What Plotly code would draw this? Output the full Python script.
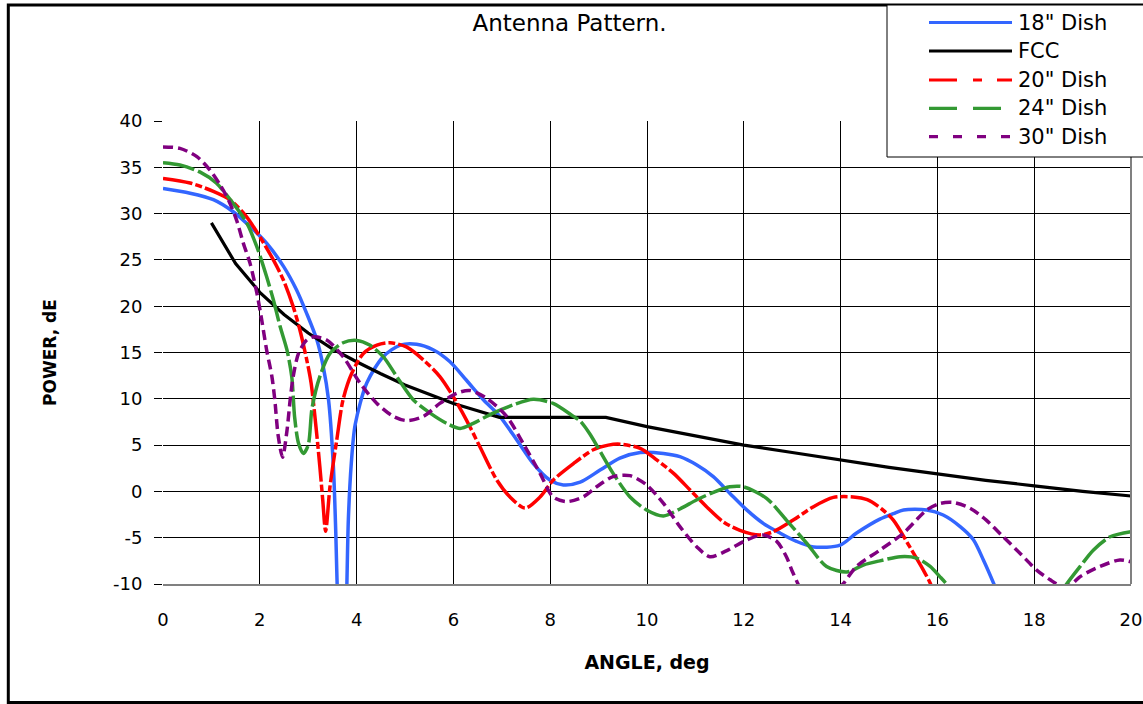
import plotly.graph_objects as go

# ---------------- data ----------------
dish18_x = [0, 0.56, 1.04, 1.45, 1.8, 2.14, 2.49, 2.76, 2.97, 3.18, 3.31, 3.42, 3.52, 3.57, 3.62,
            3.7, 3.78, 3.83, 3.89, 3.97, 4.21, 4.55, 4.9, 5.24, 5.58, 5.93, 6.27, 6.62, 6.96, 7.31,
            7.65, 8.0, 8.27, 8.62, 9.03, 9.44, 9.86, 10.34, 10.68, 11.03, 11.37, 11.71, 12.06, 12.4, 12.75,
            13.09, 13.44, 13.99, 14.33, 14.81, 15.09, 15.3, 15.78, 16.12, 16.47, 16.74, 16.95, 17.16, 17.4]
dish18_y = [32.7, 32.2, 31.5, 30.2, 28.6, 26.8, 24.3, 21.75, 19.2, 16.35, 13.5, 9.9, 2.7, -4.5, -14,
            -22, -14, -3, 3, 7.2, 11.7, 14.55, 15.8, 15.9, 15.3, 14.0, 12.0, 9.9, 8.1, 5.55,
            3.0, 1.2, 0.7, 1.0, 2.3, 3.6, 4.2, 4.1, 3.75, 2.85, 1.6, -0.2, -2.0, -3.45, -4.5,
            -5.4, -6.0, -5.8, -4.5, -3.0, -2.4, -2.0, -2.0, -2.55, -3.8, -5.2, -7.4, -9.9, -13]

fcc_x = [1, 1.5, 2, 2.5, 3, 3.5, 4, 4.5, 5, 5.5, 6, 6.5, 6.95, 8, 9.15, 10, 11, 12, 13, 14, 15,
         16, 17, 18, 19, 20]
fcc_y = [29, 24.6, 21.5, 19.1, 17.1, 15.4, 14, 12.7, 11.5, 10.5, 9.5, 8.7, 8, 8, 8, 7, 6, 5, 4.2,
         3.4, 2.6, 1.9, 1.2, 0.6, 0, -0.5]

dish20_x = [0, 0.56, 1.04, 1.38, 1.72, 2.0, 2.28, 2.49, 2.69, 2.83, 2.97, 3.06, 3.17, 3.24, 3.3,
            3.36, 3.45, 3.59, 3.72, 3.9, 4.14, 4.42, 4.69, 5.03, 5.38, 5.72, 6.0, 6.27, 6.55, 6.9,
            7.17, 7.48, 7.79, 8.06, 8.48, 8.89, 9.2, 9.44, 9.86, 10.2, 10.55, 10.89, 11.23, 11.58, 11.92,
            12.33, 12.61, 13.02, 13.44, 13.85, 14.26, 14.55, 14.85, 15.09, 15.43, 15.71, 15.85, 16.0]
dish20_y = [33.8, 33.3, 32.4, 31.5, 29.7, 27.5, 25.0, 22.8, 19.95, 17.4, 14.2, 11.7, 6.5, 2.7, -0.9,
            -4.3, 0.5, 5.55, 9.9, 12.75, 14.9, 15.8, 16.05, 15.6, 14.2, 12.4, 10.2, 7.7, 4.8, 1.2,
            -0.6, -1.8, -0.6, 1.2, 3.0, 4.5, 5.0, 5.1, 4.65, 3.4, 1.95, 0.15, -1.65, -3.3, -4.2,
            -4.7, -4.35, -3.1, -1.65, -0.65, -0.6, -0.9, -1.9, -3.1, -6.0, -8.5, -9.9, -12]

dish24_x = [0, 0.35, 0.76, 1.1, 1.45, 1.73, 1.94, 2.14, 2.28, 2.42, 2.56, 2.66, 2.72, 2.8, 2.9,
            3.0, 3.08, 3.24, 3.45, 3.72, 4.0, 4.27, 4.55, 4.83, 5.17, 5.52, 5.86, 6.14, 6.41, 6.82,
            7.24, 7.65, 8.06, 8.48, 8.62, 8.82, 8.98, 9.3, 9.65, 9.99, 10.34, 10.68, 11.03, 11.37, 11.71,
            11.99, 12.47, 12.88, 13.3, 13.71, 14.13, 14.47, 14.81, 15.23, 15.57, 15.85, 16.05, 16.19, 16.5, 17.5,
            18.4, 18.67, 18.95, 19.22, 19.57, 20.0]
dish24_y = [35.5, 35.25, 34.5, 33.3, 31.1, 29.0, 26.4, 23.2, 20.7, 17.8, 15.3, 12.4, 8.0, 5.2, 4.1,
            5.0, 9.0, 12.4, 14.9, 16.05, 16.3, 15.8, 14.55, 12.4, 9.9, 8.45, 7.35, 6.8, 7.35, 8.45,
            9.35, 9.95, 9.5, 8.1, 7.6, 6.2, 4.8, 1.95, -0.6, -2.0, -2.65, -1.9, -0.9, -0.1, 0.5,
            0.5, -0.75, -3.1, -5.6, -8.1, -8.7, -7.95, -7.5, -7.05, -7.2, -8.1, -9.2, -10.0, -12, -15,
            -12, -10, -8.1, -6.35, -4.9, -4.35]

dish30_x = [0, 0.35, 0.7, 0.97, 1.18, 1.35, 1.52, 1.66, 1.8, 1.94, 2.04, 2.14, 2.25, 2.31, 2.38,
            2.47, 2.56, 2.63, 2.69, 2.8, 2.97, 3.12, 3.38, 3.72, 4.07, 4.42, 4.76, 5.03, 5.38, 5.72,
            6.07, 6.34, 6.69, 7.1, 7.44, 7.79, 8.06, 8.34, 8.68, 8.96, 9.3, 9.65, 9.99, 10.34, 10.68,
            11.03, 11.3, 11.65, 12.06, 12.4, 12.68, 12.88, 13.02, 13.3, 13.7, 14.05, 14.33, 14.81, 15.3, 15.78,
            16.05, 16.33, 16.67, 17.01, 17.36, 17.71, 18.05, 18.33, 18.55, 18.75, 18.95, 19.36, 19.77, 20.0]
dish30_y = [37.2, 37.05, 36.15, 34.7, 33.1, 31.5, 29.3, 26.8, 24.6, 21.4, 18.5, 15.3, 12.4, 9.9, 6.0,
            3.7, 6.5, 10.0, 12.4, 14.9, 16.35, 16.7, 16.35, 14.55, 11.7, 9.5, 8.1, 7.65, 8.1, 9.5,
            10.6, 10.9, 10.05, 8.1, 5.2, 1.95, -0.6, -1.1, -0.6, 0.5, 1.6, 1.7, 0.7, -1.3, -3.8,
            -6.0, -7.05, -6.4, -5.25, -4.7, -5.4, -7.05, -8.85, -11.5, -12, -10, -8.1, -6.35, -4.5, -2.0,
            -1.3, -1.2, -1.8, -3.1, -4.9, -6.7, -8.5, -9.55, -10.2, -10.1, -9.2, -8.1, -7.4, -7.6]

series_names = ['18" Dish', 'FCC', '20" Dish', '24" Dish', '30" Dish']

x_tick_vals = [0, 2, 4, 6, 8, 10, 12, 14, 16, 18, 20]
x_tick_text = ["0", "2", "4", "6", "8", "10", "12", "14", "16", "18", "20"]
y_tick_vals = [-10, -5, 0, 5, 10, 15, 20, 25, 30, 35, 40]
y_tick_text = ["-10", "-5", "0", "5", "10", "15", "20", "25", "30", "35", "40"]

chart_title = "Antenna Pattern."
x_title = "ANGLE, deg"
y_title = "POWER, dE"

# ---------------- styling ----------------
W, H = 1143, 704
L, R, T, B = 163, 1131, 121, 584   # plot area in pixels
FONT = "DejaVu Sans"


def px_x(px):
    return (px - L) / (R - L)


def px_y(py):
    return (B - py) / (B - T)


styles = [
    dict(color="#3366FF", width=3.5, dash="solid", legend_dash="solid", shape="spline"),
    dict(color="#000000", width=3.2, dash="solid", legend_dash="solid", shape="linear"),
    dict(color="#FF0000", width=3.5, dash="30px,3px,7px,3px", legend_dash="28px,16px,9px,15px", shape="spline"),
    dict(color="#339933", width=3.5, dash="32px,4px", legend_dash="28px,16px", shape="spline"),
    dict(color="#800080", width=3.5, dash="10px,5px", legend_dash="9px,15px", shape="spline"),
]

data_x = [dish18_x, fcc_x, dish20_x, dish24_x, dish30_x]
data_y = [dish18_y, fcc_y, dish20_y, dish24_y, dish30_y]

fig = go.Figure()
for name, xs, ys, st in zip(series_names, data_x, data_y, styles):
    fig.add_trace(go.Scatter(
        x=xs, y=ys, mode="lines", name=name,
        line=dict(color=st["color"], width=st["width"], dash=st["dash"],
                  shape=st["shape"], smoothing=0.8 if st["shape"] == "spline" else None),
        showlegend=False,
    ))

shapes = []
annotations = []

# right plot-area border (gray)
shapes.append(dict(type="line", xref="paper", yref="paper", x0=1, x1=1, y0=0, y1=1,
                   line=dict(color="#808080", width=2), layer="above"))

# outer chart frame
shapes.append(dict(type="rect", xref="paper", yref="paper",
                   x0=px_x(8.3), x1=px_x(1170), y0=px_y(702.5), y1=px_y(5),
                   line=dict(color="#000000", width=3), fillcolor="rgba(0,0,0,0)", layer="above"))

# legend box
shapes.append(dict(type="rect", xref="paper", yref="paper",
                   x0=px_x(887), x1=px_x(1170), y0=px_y(157), y1=px_y(5),
                   line=dict(color="#000000", width=1), fillcolor="#FFFFFF", layer="above"))

legend_rows = [22.5, 51, 80, 108.3, 136.7]
for name, st, ry in zip(series_names, styles, legend_rows):
    shapes.append(dict(type="line", xref="paper", yref="paper",
                       x0=px_x(929), x1=px_x(1012), y0=px_y(ry), y1=px_y(ry),
                       line=dict(color=st["color"], width=3.2, dash=st["legend_dash"]),
                       layer="above"))
    annotations.append(dict(text=name, xref="paper", yref="paper",
                            x=px_x(1016), y=px_y(ry), xanchor="left", yanchor="middle",
                            showarrow=False, font=dict(family=FONT, size=21, color="#000000")))

fig.update_layout(
    width=W, height=H, autosize=False,
    margin=dict(l=L, r=W - R, t=T, b=H - B, pad=0, autoexpand=False),
    paper_bgcolor="#FFFFFF", plot_bgcolor="#FFFFFF",
    title=dict(text=chart_title, xref="paper", x=px_x(569.5), xanchor="center",
               yref="container", y=1 - 23 / H, yanchor="middle",
               font=dict(family=FONT, size=23, color="#000000")),
    xaxis=dict(range=[0, 20], tickmode="array", tickvals=x_tick_vals, ticktext=x_tick_text,
               showgrid=True, gridcolor="#000000", gridwidth=1, zeroline=False,
               showline=True, linecolor="#808080", linewidth=2, ticks="", automargin=False,
               tickfont=dict(family=FONT, size=18, color="#000000"),
               ticklabelstandoff=18,
               title=dict(text="<b>" + x_title + "</b>", standoff=27,
                          font=dict(family=FONT, size=19, color="#000000"))),
    yaxis=dict(range=[-10, 40], tickmode="array", tickvals=y_tick_vals, ticktext=y_tick_text,
               showgrid=True, gridcolor="#000000", gridwidth=1, zeroline=False, automargin=False,
               showline=False, ticks="outside", ticklen=8, tickwidth=1, tickcolor="#000000",
               tickfont=dict(family=FONT, size=18, color="#000000"),
               ticklabelstandoff=8,
               title=dict(text="<b>" + y_title + "</b>", standoff=52,
                          font=dict(family=FONT, size=17, color="#000000"))),
    shapes=shapes,
    annotations=annotations,
    showlegend=False,
)

# remove the browser's default 8px page margin so the figure sits at the window origin
fig.write_html("out.html", config={"displayModeBar": False},
               post_script="document.body.style.margin='0';document.body.style.padding='0';")
